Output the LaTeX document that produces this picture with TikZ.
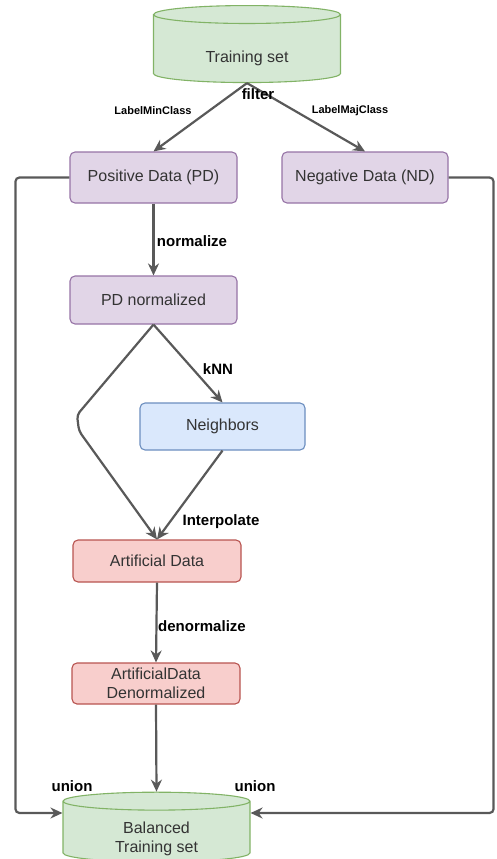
\documentclass[tikz,border=0pt]{standalone}
\usepackage{fontspec}
\setmainfont{Liberation Sans}
\usetikzlibrary{shapes.geometric,arrows.meta}

\definecolor{greenfill}{HTML}{D5E8D4}
\definecolor{greenline}{HTML}{82B366}
\definecolor{purplefill}{HTML}{E1D5E7}
\definecolor{purpleline}{HTML}{9673A6}
\definecolor{bluefill}{HTML}{DAE8FC}
\definecolor{blueline}{HTML}{6C8EBF}
\definecolor{redfill}{HTML}{F8CECC}
\definecolor{redline}{HTML}{B85450}
\definecolor{arrowgray}{HTML}{595959}

\newcommand{\dbtext}[2][-9pt]{\raisebox{#1}[\height][\depth]{\begin{tabular}{@{}c@{}}#2\end{tabular}}}

\begin{document}
\begin{tikzpicture}[x=1pt, y=-1pt,
    box/.style={draw, rounded corners=5pt, line width=1.1pt, text=black!80,
        font=\fontsize{16}{19}\selectfont, align=center},
    purplebox/.style={box, fill=purplefill, draw=purpleline},
    bluebox/.style={box, fill=bluefill, draw=blueline},
    redbox/.style={box, fill=redfill, draw=redline},
    dbase/.style={cylinder, shape border rotate=90, aspect=0.2, draw=greenline,
        fill=greenfill, line width=1.1pt, text=black!80,
        font=\fontsize{16}{19}\selectfont},
    flow/.style={draw=arrowgray, line width=2.2pt, rounded corners=4pt,
        -{Stealth[length=12pt,width=11pt]}},
    lbl/.style={font=\bfseries\fontsize{15}{17}\selectfont, text=black},
    smalllbl/.style={font=\bfseries\fontsize{11}{13}\selectfont, text=black}]

\useasboundingbox (0,0) rectangle (496,859);

% data stores
\node[dbase, minimum width=187pt, minimum height=77pt] (train) at (247,50) {\dbtext{Training set}};
\node[dbase, minimum width=187pt, minimum height=64pt] (bal) at (156.5,833) {\dbtext[-6pt]{Balanced\\Training set}};

% process boxes
\node[purplebox, minimum width=167pt, minimum height=51pt] (pd) at (153.5,177.5) {Positive Data (PD)};
\node[purplebox, minimum width=166pt, minimum height=51pt] (nd) at (365,177.5) {Negative Data (ND)};
\node[purplebox, minimum width=167pt, minimum height=48pt] (pdn) at (153.5,300) {PD normalized};
\node[bluebox, minimum width=165pt, minimum height=47pt] (nbr) at (222.5,426.5) {Neighbors};
\node[redbox, minimum width=168pt, minimum height=42pt] (art) at (157,561) {Artificial Data};
\node[redbox, minimum width=168pt, minimum height=41pt] (artd) at (156,683.5) {ArtificialData\\Denormalized};

\coordinate (bend1) at (77,415);
\coordinate (bend2) at (79,431);

% connectors
\draw[flow] (train.south) -- (pd.north);
\draw[flow] (train.south) -- (nd.north);
\draw[flow] (pd.south) -- (pdn.north);
\draw[flow] (pdn.south) -- (nbr.north);
\draw[flow] (pdn.south) -- (bend1) -- (bend2) -- (art.north);
\draw[flow] (nbr.south) -- (art.north);
\draw[flow] (art.south) -- (artd.north);
\draw[flow] (artd.south) -- (bal.north);
\draw[flow] (pd.west) -- ++(-54,0) |- ([yshift=20pt]bal.west);
\draw[flow] (nd.east) -- ++(45,0) |- ([yshift=20pt]bal.east);

% labels
\node[lbl] (lfilter) at (258,94) {filter};
\node[smalllbl] (lmin) at (153,111) {LabelMinClass};
\node[smalllbl] (lmaj) at (350,111) {LabelMajClass};
\node[lbl] (lnorm) at (192,241) {normalize};
\node[lbl] (lknn) at (218,369) {kNN};
\node[lbl] (linterp) at (221,522) {Interpolate};
\node[lbl] (ldenorm) at (202,626) {denormalize};
\node[lbl] (lunion1) at (72,786) {union};
\node[lbl] (lunion2) at (255,786) {union};
\end{tikzpicture}
\end{document}
